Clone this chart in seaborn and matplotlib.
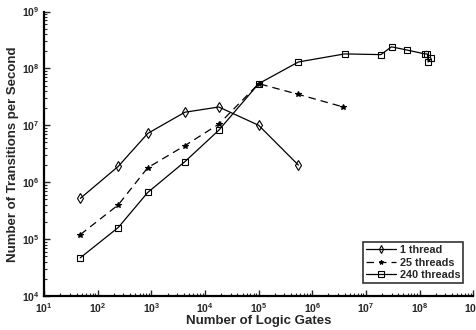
import matplotlib
matplotlib.use("Agg")
import matplotlib.pyplot as plt
import matplotlib.ticker as mticker
import pandas as pd
import seaborn as sns

# data (log-log)
gates_1 = [47, 240, 850, 4200, 18000, 1.0e5, 5.5e5]
rate_1 = [5.2e5, 1.9e6, 7.2e6, 1.7e7, 2.1e7, 1.0e7, 2.0e6]

gates_25 = [47, 240, 850, 4200, 18000, 1.0e5, 5.5e5, 3.8e6]
rate_25 = [1.2e5, 4.0e5, 1.8e6, 4.4e6, 1.05e7, 5.4e7, 3.5e7, 2.1e7]

gates_240 = [47, 240, 850, 4200, 18000, 1.0e5, 5.5e5, 4.0e6, 1.9e7, 3.0e7,
             5.9e7, 1.27e8, 1.4e8, 1.45e8, 1.65e8]
rate_240 = [4.7e4, 1.6e5, 6.6e5, 2.3e6, 8.2e6, 5.4e7, 1.3e8, 1.8e8, 1.75e8,
            2.4e8, 2.1e8, 1.8e8, 1.8e8, 1.3e8, 1.5e8]

series = ["1 thread", "25 threads", "240 threads"]

df = pd.concat([
    pd.DataFrame({"gates": gates_1, "rate": rate_1, "series": series[0]}),
    pd.DataFrame({"gates": gates_25, "rate": rate_25, "series": series[1]}),
    pd.DataFrame({"gates": gates_240, "rate": rate_240, "series": series[2]}),
], ignore_index=True)

sns.set_theme(style="ticks")
plt.rcParams["font.family"] = ["Liberation Sans", "DejaVu Sans"]
plt.rcParams["font.weight"] = "bold"
plt.rcParams["mathtext.default"] = "bf"

fig = plt.figure(figsize=(4.76, 3.3), dpi=100)
ax = fig.add_axes([0.093, 0.103, 0.901, 0.862])

g = sns.lineplot(
    data=df,
    x="gates",
    y="rate",
    hue="series",
    style="series",
    palette=["black"] * 3,
    markers={"1 thread": "d", "25 threads": "*", "240 threads": "s"},
    dashes={"1 thread": "", "25 threads": (6, 4), "240 threads": ""},
    sort=False,
    estimator=None,
    linewidth=0.9,
    markersize=5,
    markerfacecolor="none",
    markeredgecolor="black",
    markeredgewidth=0.8,
    ax=ax,
)
# the star markers are small and filled in the reference
for line in ax.lines:
    if line.get_marker() == "*":
        line.set_markerfacecolor("black")
        line.set_markersize(4)

ax.set_xscale("log")
ax.set_yscale("log")
ax.set_xlim(1e1, 1e9)
ax.set_ylim(1e4, 1e9)

ax.xaxis.set_major_locator(mticker.LogLocator(base=10, numticks=20))
ax.yaxis.set_major_locator(mticker.LogLocator(base=10, numticks=20))
ax.xaxis.set_minor_locator(mticker.LogLocator(base=10, subs=range(2, 10), numticks=20))
ax.yaxis.set_minor_locator(mticker.LogLocator(base=10, subs=range(2, 10), numticks=20))

ax.tick_params(axis="both", which="both", direction="in", labelsize=7.5)
ax.tick_params(which="major", length=4, width=1)
ax.tick_params(which="minor", length=2, width=0.8)

sns.despine(ax=ax)
for side in ["left", "bottom"]:
    ax.spines[side].set_linewidth(1.6)
    ax.spines[side].set_color("black")

g.set_xlabel("Number of Logic Gates", fontsize=9.5, fontweight="bold", labelpad=0)
g.set_ylabel("Number of Transitions per Second", fontsize=9.5, fontweight="bold", labelpad=2)

leg = ax.legend(
    loc="lower right",
    bbox_to_anchor=(0.99, 0.025),
    fontsize=7.8,
    frameon=True,
    fancybox=False,
    edgecolor="black",
    handlelength=2.8,
    handletextpad=0.3,
    borderpad=0.3,
    labelspacing=0.25,
    markerscale=0.8,
)
leg.get_frame().set_linewidth(1.2)

fig.savefig("out.png", dpi=100)
